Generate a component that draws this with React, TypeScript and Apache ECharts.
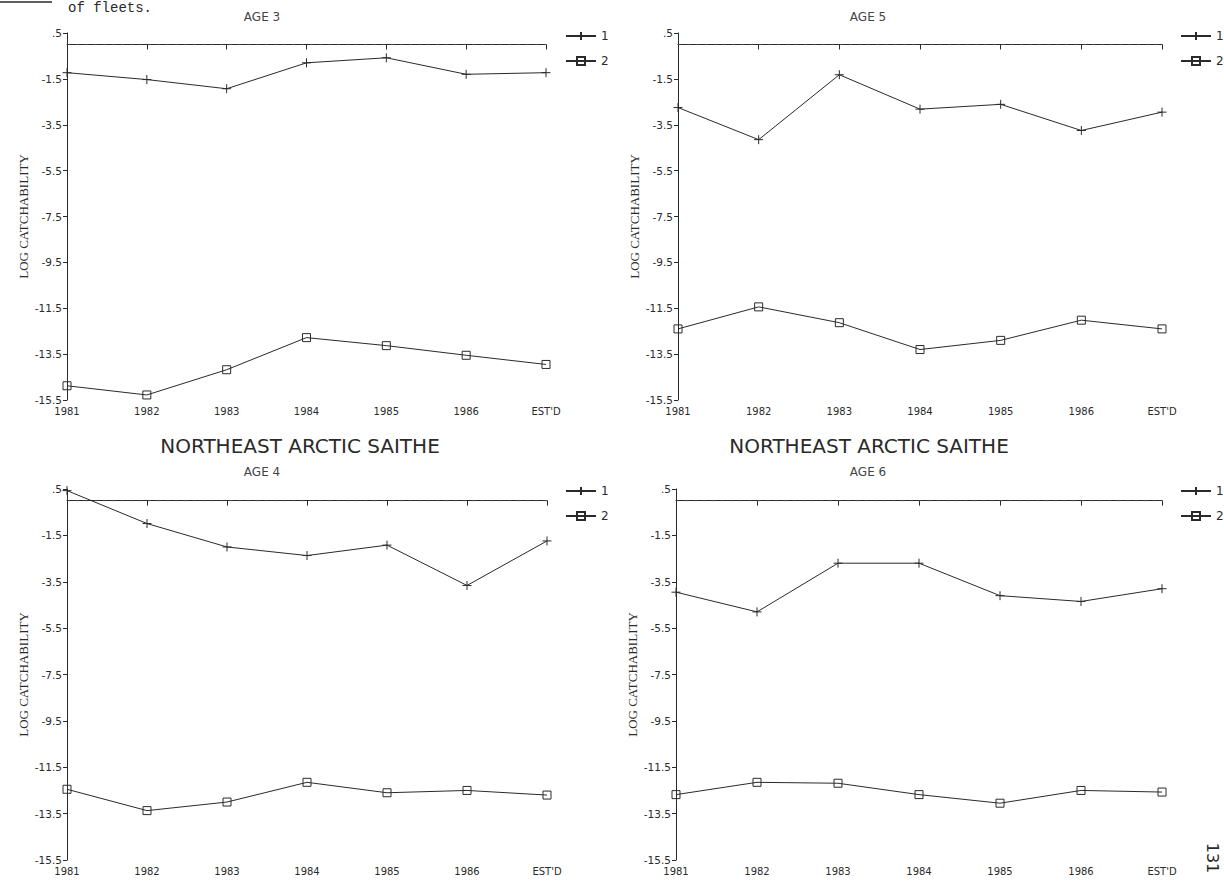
import React, { useEffect, useRef } from "react";
import * as echarts from "echarts";

// ---------- data ----------
const years = ["1981", "1982", "1983", "1984", "1985", "1986", "EST'D"];
const fleetNames = ["1", "2"];

const age3Fleet1 = [-1.23, -1.53, -1.93, -0.8, -0.58, -1.3, -1.23];
const age3Fleet2 = [-14.88, -15.28, -14.18, -12.78, -13.13, -13.55, -13.95];

const age5Fleet1 = [-2.75, -4.15, -1.32, -2.82, -2.61, -3.75, -2.95];
const age5Fleet2 = [-12.4, -11.44, -12.13, -13.3, -12.9, -12.02, -12.4];

const age4Fleet1 = [0.43, -0.99, -2.0, -2.37, -1.92, -3.66, -1.74];
const age4Fleet2 = [-12.45, -13.37, -13.0, -12.15, -12.6, -12.5, -12.7];

const age6Fleet1 = [-3.95, -4.8, -2.7, -2.7, -4.1, -4.35, -3.8];
const age6Fleet2 = [-12.68, -12.15, -12.19, -12.68, -13.05, -12.5, -12.57];

// reference line at log catchability 0, one value per category
const zeroLine = [0, 0, 0, 0, 0, 0, 0];

const yMin = -15.5;
const yMax = 0.5;
const yInterval = 2;
const yTickLabels: Record<string, string> = {
  "0.5": ".5",
  "-1.5": "-1.5",
  "-3.5": "-3.5",
  "-5.5": "-5.5",
  "-7.5": "-7.5",
  "-9.5": "-9.5",
  "-11.5": "-11.5",
  "-13.5": "-13.5",
  "-15.5": "-15.5",
};

const yAxisName = "LOG CATCHABILITY";
const stockTitle = "NORTHEAST ARCTIC SAITHE";
const ageTitles = ["AGE 3", "AGE 5", "AGE 4", "AGE 6"];
const captionText = "of fleets.";
const pageNumber = "131";

const panelData = [
  [age3Fleet1, age3Fleet2],
  [age5Fleet1, age5Fleet2],
  [age4Fleet1, age4Fleet2],
  [age6Fleet1, age6Fleet2],
];

// ---------- layout ----------
const panelLayout = [
  { left: 67, top: 33, width: 479, height: 367, legendLeft: 560, legendTop: 25, ageX: 262, ageY: 17 },
  { left: 678, top: 33, width: 484, height: 367, legendLeft: 1175, legendTop: 25, ageX: 868, ageY: 17 },
  { left: 67, top: 489, width: 480, height: 371, legendLeft: 560, legendTop: 480, ageX: 262, ageY: 472 },
  { left: 676, top: 489, width: 486, height: 371, legendLeft: 1175, legendTop: 480, ageX: 868, ageY: 472 },
];

const INK = "#2a2a2a";
const plusSymbol = "path://M0,5L10,5M5,0L5,10";

export default function App() {
  const ref = useRef<HTMLDivElement>(null);

  useEffect(() => {
    if (!ref.current) return;
    const chart = echarts.init(ref.current, undefined, { renderer: "svg" });

    const grids: any[] = [];
    const xAxes: any[] = [];
    const yAxes: any[] = [];
    const series: any[] = [];
    const legends: any[] = [];

    panelLayout.forEach((p, i) => {
      grids.push({ left: p.left, top: p.top, width: p.width, height: p.height, containLabel: false });
      xAxes.push({
        type: "category",
        gridIndex: i,
        data: years,
        boundaryGap: false,
        axisLine: { show: true, lineStyle: { color: INK, width: 1 } },
        axisTick: { show: true, length: 5, lineStyle: { color: INK } },
        axisLabel: { color: INK, fontSize: 10, fontFamily: "DejaVu Sans", margin: 6 },
        splitLine: { show: false },
      });
      yAxes.push({
        type: "value",
        gridIndex: i,
        min: yMin,
        max: yMax,
        interval: yInterval,
        name: yAxisName,
        nameLocation: "middle",
        nameGap: 37,
        nameTextStyle: { fontFamily: "Liberation Serif", fontSize: 13, color: INK },
        axisLine: { show: true, lineStyle: { color: INK, width: 1 } },
        axisTick: { show: true, length: 4, lineStyle: { color: INK } },
        axisLabel: {
          color: INK,
          fontSize: 10.5,
          fontFamily: "DejaVu Sans",
          margin: 5,
          formatter: (v: number) => yTickLabels[String(v)] ?? String(v),
        },
        splitLine: { show: false },
      });
      const [f1, f2] = panelData[i];
      series.push({
        name: "zero",
        type: "line",
        xAxisIndex: i,
        yAxisIndex: i,
        data: zeroLine,
        symbol: "none",
        silent: true,
        lineStyle: { color: "#444", width: 1, type: [3, 6] },
        z: 1,
      });
      series.push({
        name: fleetNames[0],
        type: "line",
        xAxisIndex: i,
        yAxisIndex: i,
        data: f1,
        symbol: plusSymbol,
        symbolSize: 9,
        lineStyle: { color: INK, width: 1 },
        itemStyle: { color: "rgba(0,0,0,0)", borderColor: INK, borderWidth: 1 },
        z: 3,
      });
      series.push({
        name: fleetNames[1],
        type: "line",
        xAxisIndex: i,
        yAxisIndex: i,
        data: f2,
        symbol: "rect",
        symbolSize: 8,
        lineStyle: { color: INK, width: 1 },
        itemStyle: { color: "rgba(0,0,0,0)", borderColor: INK, borderWidth: 1 },
        z: 3,
      });
      legends.push({
        data: fleetNames,
        orient: "vertical",
        left: p.legendLeft,
        top: p.legendTop,
        itemWidth: 30,
        itemHeight: 10,
        itemGap: 13,
        selectedMode: false,
        textStyle: { color: INK, fontSize: 12, fontFamily: "DejaVu Sans" },
      });
    });

    const graphics: any[] = [
      {
        type: "text",
        x: 68,
        y: 1,
        style: { text: captionText, font: "14px 'Liberation Mono'", fill: INK },
      },
      {
        type: "line",
        shape: { x1: 0, y1: 2, x2: 52, y2: 2 },
        style: { stroke: INK, lineWidth: 1.5 },
      },
      {
        type: "text",
        x: 300,
        y: 446,
        style: { text: stockTitle, font: "20px 'DejaVu Sans'", fill: INK, align: "center", verticalAlign: "middle" },
      },
      {
        type: "text",
        x: 869,
        y: 446,
        style: { text: stockTitle, font: "20px 'DejaVu Sans'", fill: INK, align: "center", verticalAlign: "middle" },
      },
      {
        type: "text",
        x: 1212,
        y: 858,
        rotation: -Math.PI / 2,
        style: { text: pageNumber, font: "16px 'DejaVu Sans'", fill: INK, align: "center", verticalAlign: "middle" },
      },
    ];
    panelLayout.forEach((p, i) => {
      graphics.push({
        type: "text",
        x: p.ageX,
        y: p.ageY,
        style: { text: ageTitles[i], font: "12px 'DejaVu Sans'", fill: "#444", align: "center", verticalAlign: "middle" },
      });
    });

    chart.setOption({
      animation: false,
      backgroundColor: "#ffffff",
      grid: grids,
      xAxis: xAxes,
      yAxis: yAxes,
      legend: legends,
      series,
      graphic: graphics,
    });

    return () => chart.dispose();
  }, []);

  return (
    <div
      ref={ref}
      style={{ position: "fixed", left: 0, top: 0, width: 1224, height: 885, background: "#fff" }}
    />
  );
}
